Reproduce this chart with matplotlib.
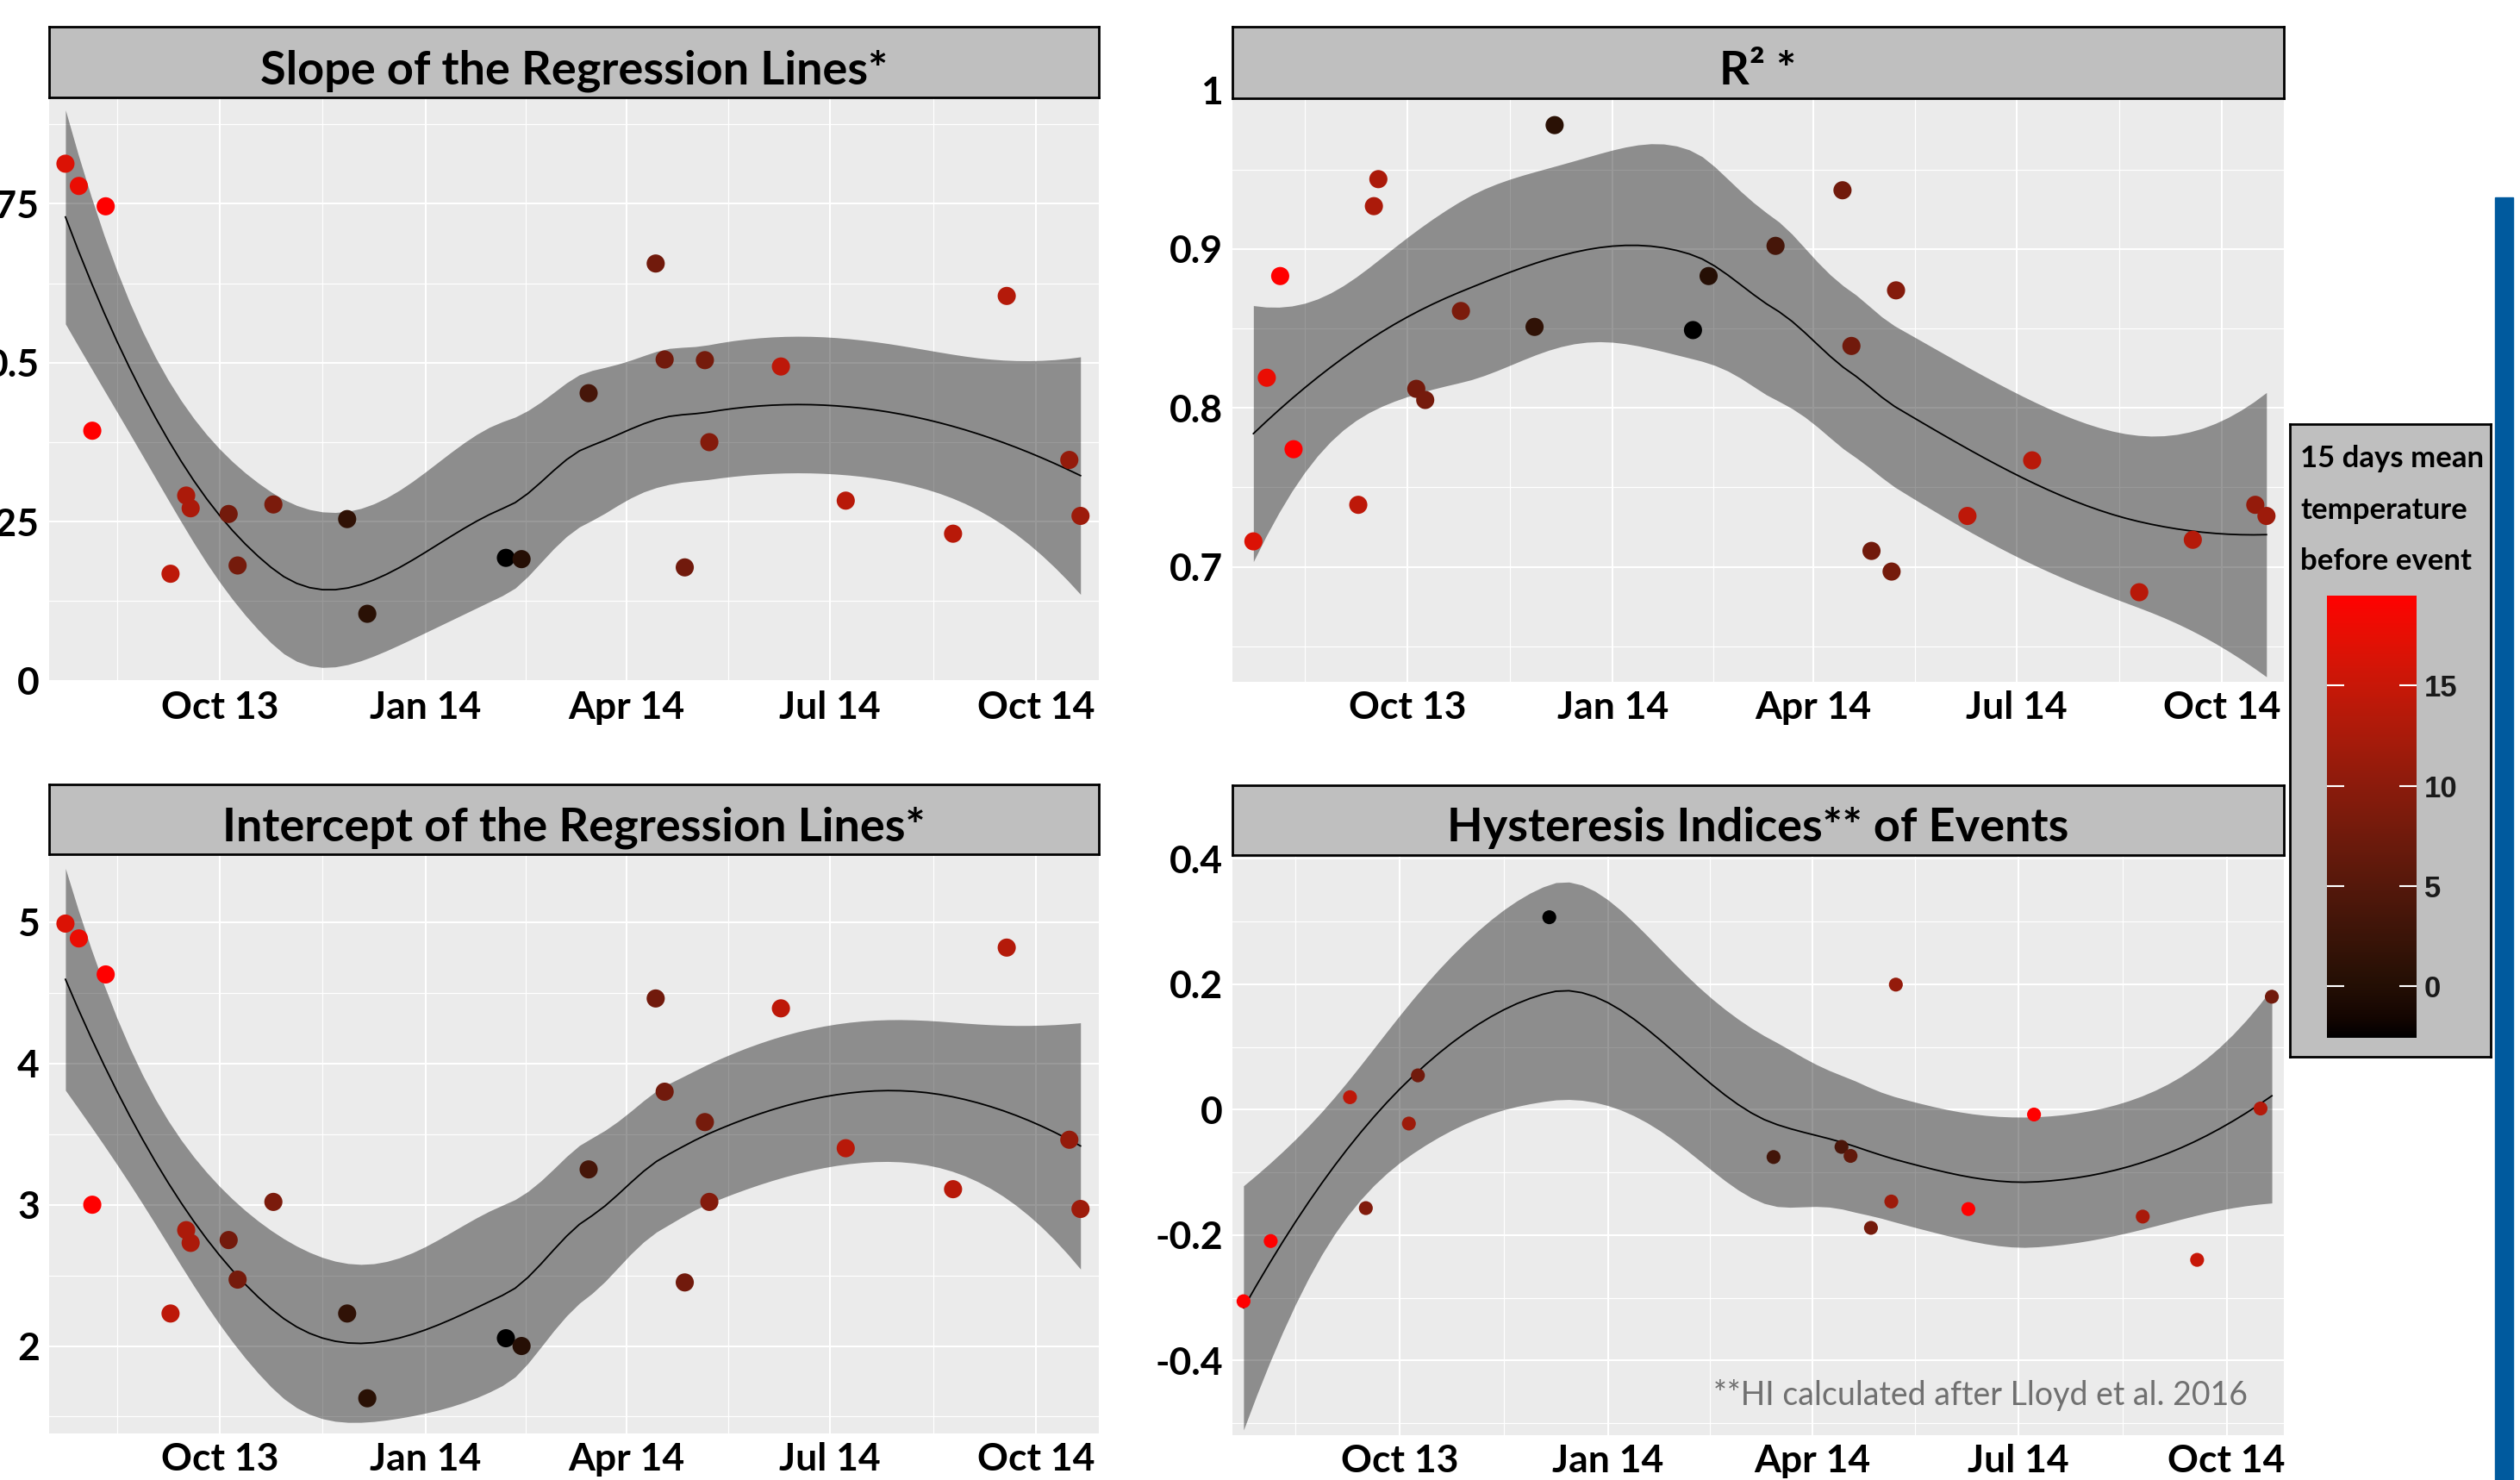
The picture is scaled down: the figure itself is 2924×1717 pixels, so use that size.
import math
import numpy as np
import pandas as pd
import matplotlib
matplotlib.use("Agg")
from matplotlib import pyplot as plt
import matplotlib.dates as mdates
from matplotlib.colors import ListedColormap, Normalize
from matplotlib.cm import ScalarMappable
from matplotlib.patches import Rectangle

plt.rcParams["font.family"] = ["Lato", "DejaVu Sans"]
plt.rcParams["font.weight"] = "bold"

# events (same for slope, intercept, R2)
event_dates = ["2013-07-24", "2013-07-30", "2013-08-05", "2013-08-11", "2013-09-09",
               "2013-09-16", "2013-09-18", "2013-10-05", "2013-10-09", "2013-10-25",
               "2013-11-27", "2013-12-06", "2014-02-06", "2014-02-13", "2014-03-15",
               "2014-04-14", "2014-04-18", "2014-04-27", "2014-05-06", "2014-05-08",
               "2014-06-09", "2014-07-08", "2014-08-25", "2014-09-18", "2014-10-16",
               "2014-10-21"]
temp = [16.6, 17.8, 19.5, 19.5, 14.2, 12.6, 12.6, 7.8, 8.0, 8.5, 1.4, 0.8, -2.6,
        0.4, 3.6, 7.6, 7.6, 7.6, 8.0, 9.3, 14.2, 13.8, 13.8, 13.4, 10.7, 11.5]
slope = [0.813, 0.778, 0.393, 0.746, 0.168, 0.291, 0.271, 0.262, 0.181, 0.277,
         0.254, 0.105, 0.193, 0.191, 0.452, 0.656, 0.505, 0.178, 0.504, 0.375,
         0.494, 0.283, 0.231, 0.605, 0.347, 0.259]
intercept = [4.99, 4.885, 3.0, 4.63, 2.23, 2.82, 2.73, 2.75, 2.47, 3.02, 2.23, 1.63,
             2.055, 2.0, 3.25, 4.46, 3.80, 2.45, 3.585, 3.02, 4.39, 3.40, 3.11, 4.82,
             3.46, 2.97]
r2 = [0.716, 0.819, 0.883, 0.774, 0.739, 0.927, 0.944, 0.812, 0.805, 0.861, 0.851,
      0.978, 0.849, 0.883, 0.902, 0.937, 0.839, 0.710, 0.697, 0.874, 0.732, 0.767,
      0.684, 0.717, 0.739, 0.732]

# hysteresis index events
hi_dates = ["2013-07-24", "2013-08-05", "2013-09-09", "2013-09-16", "2013-10-05",
            "2013-10-09", "2013-12-06", "2014-03-15", "2014-04-14", "2014-04-18",
            "2014-04-27", "2014-05-06", "2014-05-08", "2014-06-09", "2014-07-08",
            "2014-08-25", "2014-09-18", "2014-10-16", "2014-10-21"]
hi_temp = [19.5, 19.5, 14.2, 9.0, 11.5, 7.6, -2.6, 3.2, 4.0, 6.2, 8.0, 11.5, 10.7,
           19.5, 19.5, 12.5, 15.0, 13.4, 7.6]
hi = [-0.3055, -0.2095, 0.0198, -0.157, -0.0222, 0.0546, 0.3067, -0.0756, -0.0594,
      -0.0738, -0.1885, -0.1465, 0.1993, -0.1585, -0.0078, -0.1705, -0.2395, 0.0018,
      0.180]

major_dates = ["2013-10-01", "2014-01-01", "2014-04-01", "2014-07-01", "2014-10-01"]
minor_dates = ["2013-08-16", "2013-11-16", "2014-02-15", "2014-05-16T12:00",
               "2014-08-16"]

W, H = 2924, 1717


def rect(x0, x1, y0, y1):
    return [x0 / W, 1 - y1 / H, (x1 - x0) / W, (y1 - y0) / H]


def to_num(dates):
    return np.array([mdates.date2num(pd.Timestamp(d)) for d in dates])


def t_quantile(p, df):
    c = math.gamma((df + 1) / 2) / (math.sqrt(df * math.pi) * math.gamma(df / 2))
    t = np.linspace(0, 12, 240001)
    pdf = c * (1 + t ** 2 / df) ** (-(df + 1) / 2)
    cdf = 0.5 + np.concatenate([[0], np.cumsum((pdf[1:] + pdf[:-1]) / 2 * np.diff(t))])
    return np.interp(p, cdf, t)


def loess(x, y, xs, span=0.75, cell=0.2):
    # local quadratic loess, fitted at kd-tree vertices and joined by cubic
    # Hermite interpolation (what R's loess / geom_smooth does by default)
    n = len(x)
    q = int(np.floor(n * span))

    def rows(x0):
        d = np.abs(x - x0)
        h = np.sort(d)[q - 1]
        w = (1 - np.clip(d / h, 0, 1) ** 3) ** 3
        X = np.column_stack([np.ones(n), x - x0, (x - x0) ** 2])
        XtW = X.T * w
        B = np.linalg.solve(XtW @ X, XtW)
        return B[0], B[1]

    srt = np.sort(x)
    mu = 0.005 * (srt[-1] - srt[0])
    verts = [srt[0] - mu, srt[-1] + mu]
    fc = int(np.floor(n * span * cell))

    def split(lo, hi):
        if hi - lo + 1 <= fc:
            return
        m = (lo + hi + 2) // 2 - 1
        verts.append(srt[m])
        split(lo, m)
        split(m + 1, hi)

    split(0, n - 1)
    verts = np.unique(verts)
    V = [rows(v) for v in verts]

    def interp(pts):
        out = []
        for p in pts:
            j = int(np.clip(np.searchsorted(verts, p, side="right") - 1, 0, len(verts) - 2))
            v0, v1 = verts[j], verts[j + 1]
            hh = v1 - v0
            u = (p - v0) / hh
            phi0 = (1 - u) ** 2 * (1 + 2 * u)
            phi1 = u ** 2 * (3 - 2 * u)
            psi0 = u * (1 - u) ** 2
            psi1 = -u ** 2 * (1 - u)
            out.append(phi0 * V[j][0] + phi1 * V[j + 1][0]
                       + hh * (psi0 * V[j][1] + psi1 * V[j + 1][1]))
        return np.array(out)

    L = interp(x)
    M = np.eye(n) - L
    MM = M.T @ M
    d1 = np.trace(MM)
    d2 = np.trace(MM @ MM)
    s = np.sqrt(np.sum((M @ y) ** 2) / d1)
    Ls = interp(xs)
    fit = Ls @ y
    se = s * np.sqrt(np.sum(Ls ** 2, axis=1))
    tq = t_quantile(0.975, d1 ** 2 / d2)
    return fit, fit - tq * se, fit + tq * se


def lab_black_red(n=256):
    f = np.linspace(0, 1, n)
    L, a, b = 53.2408 * f, 80.0925 * f, 67.2032 * f
    fy = (L + 16) / 116
    fx = fy + a / 500
    fz = fy - b / 200

    def finv(v):
        return np.where(v > 6 / 29, v ** 3, 3 * (6 / 29) ** 2 * (v - 4 / 29))

    X, Y, Z = 0.95047 * finv(fx), finv(fy), 1.08883 * finv(fz)
    rgb = np.stack([3.2406 * X - 1.5372 * Y - 0.4986 * Z,
                    -0.9689 * X + 1.8758 * Y + 0.0415 * Z,
                    0.0557 * X - 0.2040 * Y + 1.0570 * Z], axis=1)
    rgb = np.clip(rgb, 0, 1)
    rgb = np.where(rgb <= 0.0031308, 12.92 * rgb, 1.055 * rgb ** (1 / 2.4) - 0.055)
    return ListedColormap(np.clip(rgb, 0, 1))


cmap = lab_black_red()
norm = Normalize(min(temp + hi_temp), max(temp + hi_temp))
oct13 = mdates.date2num(pd.Timestamp("2013-10-01"))

fig = plt.figure(figsize=(W / 100, H / 100), dpi=100)


def panel(ax_box, strip_box, title, dates, vals, temps, ylim, yticks, ylabels,
          yminor, xdays, size):
    ax = fig.add_axes(rect(*ax_box))
    ax.set_facecolor("#ebebeb")
    ax.set_axisbelow(True)
    for sp in ax.spines.values():
        sp.set_visible(False)
    x = to_num(dates)
    y = np.array(vals)
    xs = np.linspace(x.min(), x.max(), 80)
    fit, lo, hi_ = loess(x, y, xs)
    ax.fill_between(xs, lo, hi_, color="black", alpha=0.4, lw=0, zorder=2)
    ax.plot(xs, fit, color="black", lw=1.3, zorder=3)
    ax.scatter(x, y, c=temps, cmap=cmap, norm=norm, s=size, lw=0, zorder=4)
    ax.set_xlim(oct13 + xdays[0], oct13 + xdays[1])
    ax.set_ylim(*ylim)
    ax.set_xticks(to_num(major_dates))
    ax.set_xticks(to_num(minor_dates), minor=True)
    ax.xaxis.set_major_formatter(mdates.DateFormatter("%b %y"))
    ax.set_yticks(yticks)
    ax.set_yticklabels(ylabels)
    ax.set_yticks(yminor, minor=True)
    ax.grid(which="major", color="white", lw=1.5)
    ax.grid(which="minor", color="white", lw=0.8)
    ax.tick_params(which="both", length=0)
    ax.tick_params(axis="x", pad=7, labelsize=32)
    ax.tick_params(axis="y", pad=8, labelsize=32)

    sax = fig.add_axes(rect(*strip_box))
    sax.set_facecolor("#bfbfbf")
    sax.set_xticks([])
    sax.set_yticks([])
    for sp in sax.spines.values():
        sp.set_linewidth(2)
    sax.text(0.5, 0.195, title, ha="center", va="baseline", fontsize=39,
             fontweight="bold", transform=sax.transAxes)
    return ax


panel((57, 1275, 113, 791), (57, 1275, 31, 113), "Slope of the Regression Lines*",
      event_dates, slope, temp, (-0.002, 0.9173), [0, 0.25, 0.5, 0.75],
      ["0", "0.25", "0.5", "0.75"], [0.125, 0.375, 0.625, 0.875], (-76.3, 393.2), 230)
panel((1430, 2650, 104.6, 791), (1430, 2650, 31, 114), "R² *",
      event_dates, r2, temp, (0.6276, 1.0), [0.7, 0.8, 0.9, 1.0],
      ["0.7", "0.8", "0.9", "1"], [0.65, 0.75, 0.85, 0.95], (-78.4, 392.8), 230)
panel((57, 1275, 991, 1663), (57, 1275, 910, 991), "Intercept of the Regression Lines*",
      event_dates, intercept, temp, (1.381, 5.481), [2, 3, 4, 5],
      ["2", "3", "4", "5"], [1.5, 2.5, 3.5, 4.5], (-76.3, 393.2), 230)
ax_hi = panel((1430, 2650, 992, 1665), (1430, 2650, 911, 992),
              "Hysteresis Indices** of Events", hi_dates, hi, hi_temp,
              (-0.519, 0.4058), [-0.4, -0.2, 0, 0.2, 0.4],
              ["-0.4", "-0.2", "0", "0.2", "0.4"], [-0.5, -0.3, -0.1, 0.1, 0.3],
              (-73.9, 390.3), 135)
ax_hi.text(0.9656, 0.0527, "**HI calculated after Lloyd et al. 2016", ha="right",
           va="baseline", fontsize=27, fontweight="normal", color="#707070",
           transform=ax_hi.transAxes)

# legend box
lax = fig.add_axes(rect(2657, 2890, 492, 1226))
lax.set_facecolor("#bfbfbf")
lax.set_xticks([])
lax.set_yticks([])
for sp in lax.spines.values():
    sp.set_linewidth(2)
for txt, yb in zip(["15 days mean", "temperature", "before event"], [542, 602, 661]):
    fig.text(2669 / W, 1 - yb / H, txt, ha="left", va="baseline", fontsize=25,
             fontweight="bold")

cax = fig.add_axes(rect(2700, 2804, 691, 1204))
cb = fig.colorbar(ScalarMappable(norm=norm, cmap=cmap), cax=cax)
cb.outline.set_visible(False)
cb.set_ticks([0, 5, 10, 15])
cax.tick_params(direction="in", length=14.5, width=1.5, color="white",
                left=True, right=True, labelcolor="#1a1a1a", labelsize=25, pad=6.5)
for lbl in cax.get_yticklabels():
    lbl.set_fontfamily(["Liberation Sans", "DejaVu Sans"])
    lbl.set_fontweight("bold")

fig.patches.append(Rectangle((2895 / W, 0), 21 / W, 1 - 229 / H,
                             transform=fig.transFigure, color="#005a9e"))

fig.savefig("out.png", dpi=100)
